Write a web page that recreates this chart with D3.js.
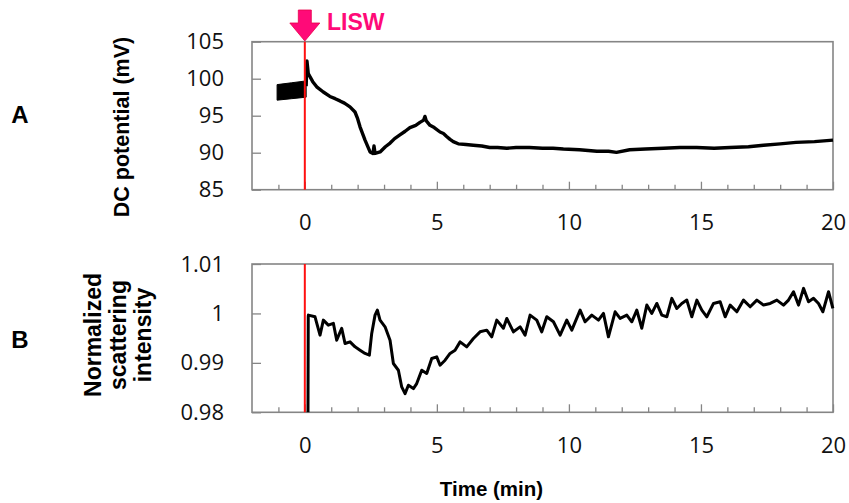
<!DOCTYPE html>
<html>
<head>
<meta charset="utf-8">
<script src="https://cdn.jsdelivr.net/npm/d3@7"></script>
<style>
  body { margin: 0; background: #fff; }
  svg { display: block; }
</style>
</head>
<body>
<script>
// Time axis (min)
const xDomain = [-2, 20];
const xMinorTicks = d3.range(-1, 20);
const xLabelTicks = [0, 5, 10, 15, 20];

// Panel A: DC potential before LISW (noisy band, low/high edges)
const preTime = [-1.05, -0.5, 0.05];
const preLow = [97.1, 97.3, 97.5];
const preHigh = [99.2, 99.45, 99.7];

// Panel A: DC potential after LISW
const dcTime = [0.05, 0.08, 0.13, 0.3, 0.45, 0.7, 0.95, 1.15, 1.33, 1.5, 1.71, 1.9, 2.0, 2.09, 2.28, 2.47,
  2.58, 2.62, 2.66, 2.85, 3.05, 3.23, 3.4, 3.6, 3.8, 3.98, 4.2, 4.36, 4.5, 4.55, 4.6, 4.74, 4.9, 5.12,
  5.25, 5.37, 5.5, 5.62, 5.81, 6.1, 6.38, 6.7, 7.0, 7.3, 7.65, 8.0, 8.5, 9.0, 9.4, 9.79, 10.4, 11.06,
  11.5, 11.8, 12.3, 12.9, 13.58, 14.2, 14.84, 15.5, 16.1, 16.8, 17.37, 18.0, 18.6, 19.3, 20];
const dcValue = [99.0, 102.4, 100.7, 99.6, 98.9, 98.2, 97.6, 97.3, 97.0, 96.7, 96.2, 95.5, 94.6, 93.5, 91.7, 90.1,
  89.9, 90.9, 89.9, 90.1, 90.8, 91.3, 91.9, 92.4, 92.9, 93.4, 93.7, 94.1, 94.4, 94.9, 94.3, 93.7, 93.4, 92.8,
  92.6, 92.2, 91.8, 91.5, 91.2, 91.1, 91.0, 90.9, 90.7, 90.7, 90.6, 90.7, 90.7, 90.6, 90.6, 90.5, 90.4, 90.2,
  90.2, 90.05, 90.4, 90.5, 90.6, 90.7, 90.7, 90.6, 90.7, 90.8, 91.0, 91.2, 91.4, 91.5, 91.7];

// Panel B: normalized scattering intensity
const scTime = [0.12, 0.13, 0.134, 0.386, 0.576, 0.702, 0.891, 1.081, 1.207, 1.397, 1.523, 1.712, 1.902, 2.091,
  2.28, 2.444, 2.533, 2.659, 2.747, 2.848, 3.038, 3.227, 3.353, 3.543, 3.669, 3.795, 3.922, 4.111, 4.237,
  4.427, 4.616, 4.806, 4.995, 5.121, 5.311, 5.5, 5.689, 5.879, 6.131, 6.384, 6.636, 6.889, 7.078, 7.268,
  7.52, 7.647, 7.899, 8.152, 8.341, 8.53, 8.783, 8.972, 9.162, 9.414, 9.667, 9.919, 10.109, 10.424, 10.614,
  10.866, 11.119, 11.308, 11.497, 11.75, 11.939, 12.192, 12.381, 12.571, 12.76, 12.95, 13.139, 13.328,
  13.518, 13.707, 13.897, 14.086, 14.275, 14.465, 14.654, 14.844, 15.033, 15.222, 15.475, 15.727, 15.917,
  16.106, 16.359, 16.611, 16.864, 17.116, 17.369, 17.621, 17.874, 18.126, 18.316, 18.505, 18.694, 18.884,
  19.073, 19.263, 19.452, 19.616, 19.831, 19.995];
const scValue = [0.98, 0.9993, 0.99966, 0.99932, 0.99561, 0.99865, 0.99763, 0.998, 0.99459, 0.997, 0.99392,
  0.99425, 0.99324, 0.99257, 0.9919, 0.99155, 0.99595, 0.99966, 1.00067, 0.99865, 0.99729, 0.99459, 0.98987,
  0.98851, 0.98513, 0.98378, 0.98547, 0.9848, 0.98581, 0.98851, 0.98784, 0.99088, 0.99121, 0.98953, 0.99054,
  0.9919, 0.99257, 0.99425, 0.99324, 0.99493, 0.99628, 0.99662, 0.99527, 0.99865, 0.997, 0.99899, 0.99628,
  0.99729, 0.99561, 0.99966, 0.99865, 0.99628, 0.99932, 0.99831, 0.99561, 0.99865, 0.99662, 1.00067,
  0.99831, 0.99966, 0.99865, 1.0, 0.99527, 1.00033, 0.99899, 0.99966, 0.99831, 1.00067, 0.997, 1.00169,
  1.0, 1.00202, 0.99966, 0.99932, 1.00305, 1.001, 1.00202, 1.0027, 0.99932, 1.0027, 1.00067, 0.99932,
  1.00202, 1.00236, 0.99932, 1.00169, 1.00033, 1.0027, 1.00134, 1.0027, 1.00169, 1.00202, 1.0027, 1.00169,
  1.0027, 1.00439, 1.00169, 1.00507, 1.00236, 1.00305, 1.00202, 1.00033, 1.00439, 1.001];

const yTicksA = [85, 90, 95, 100, 105];
const yTicksB = [0.98, 0.99, 1, 1.01];

const W = 849, H = 503;
const left = 252, right = 833;
const frameColor = "#858585";
const tickFont = "'Open Sans', 'Noto Sans', sans-serif";
const boldFont = "'Liberation Sans', Arial, sans-serif";
const pink = "#ff0a78";

const svg = d3.select("body").append("svg").attr("width", W).attr("height", H);

const x = d3.scaleLinear().domain(xDomain).range([left, right]);

const drawPanel = (top, bottom, yDomain, yTicks, yFormat) => {
  const y = d3.scaleLinear().domain(yDomain).range([bottom, top]);
  const g = svg.append("g");

  // minor time ticks, inside
  g.append("g")
    .attr("transform", `translate(0,${bottom})`)
    .call(d3.axisBottom(x).tickValues(xMinorTicks.filter((d) => d % 5 !== 0)).tickSize(-5).tickFormat(""))
    .call((a) => a.select(".domain").remove())
    .call((a) => a.selectAll("line").attr("stroke", frameColor).attr("stroke-width", 1.3));

  // major time ticks with labels
  g.append("g")
    .attr("transform", `translate(0,${bottom})`)
    .call(d3.axisBottom(x).tickValues(xLabelTicks).tickSizeInner(-8).tickSizeOuter(0).tickPadding(25).tickFormat(d3.format("d")))
    .call((a) => a.select(".domain").remove())
    .call((a) => a.selectAll("line").attr("stroke", frameColor).attr("stroke-width", 1.3))
    .call((a) => a.selectAll("text").attr("font-family", tickFont).attr("font-size", 22).attr("fill", "#111"));

  // y ticks
  g.append("g")
    .attr("transform", `translate(${left},0)`)
    .call(d3.axisLeft(y).tickValues(yTicks).tickSizeInner(-9).tickSizeOuter(0).tickPadding(28).tickFormat(yFormat))
    .call((a) => a.select(".domain").remove())
    .call((a) => a.selectAll("line").attr("stroke", frameColor).attr("stroke-width", 1.3))
    .call((a) => a.selectAll("text").attr("font-family", tickFont).attr("font-size", 22).attr("fill", "#111"));

  // frame
  g.append("rect")
    .attr("x", left).attr("y", top)
    .attr("width", right - left).attr("height", bottom - top)
    .attr("fill", "none").attr("stroke", frameColor).attr("stroke-width", 1.6);

  return { g, y };
};

// Panel A
const A = drawPanel(41.7, 189.7, [85, 105], yTicksA, d3.format("d"));
const pre = preTime.map((t, i) => ({ t, lo: preLow[i], hi: preHigh[i] }));
A.g.append("path")
  .datum(pre)
  .attr("d", d3.area().x((d) => x(d.t)).y0((d) => A.y(d.lo)).y1((d) => A.y(d.hi)))
  .attr("fill", "#000").attr("stroke", "#000").attr("stroke-width", 1);
A.g.append("path")
  .datum(dcTime.map((t, i) => [t, dcValue[i]]))
  .attr("d", d3.line().x((d) => x(d[0])).y((d) => A.y(d[1])))
  .attr("fill", "none").attr("stroke", "#000").attr("stroke-width", 3.4).attr("stroke-linejoin", "round");
A.g.append("line")
  .attr("x1", x(0)).attr("x2", x(0)).attr("y1", 41.7).attr("y2", 189.7)
  .attr("stroke", "#ff1010").attr("stroke-width", 2);

// Panel B
const B = drawPanel(264, 412.3, [0.98, 1.01], yTicksB, (d) => (d === 1 ? "1" : d3.format(".2f")(d)));
B.g.append("line")
  .attr("x1", x(0)).attr("x2", x(0)).attr("y1", 264).attr("y2", 412.3)
  .attr("stroke", "#ff1010").attr("stroke-width", 2);
B.g.append("path")
  .datum(scTime.map((t, i) => [t, scValue[i]]))
  .attr("d", d3.line().x((d) => x(d[0])).y((d) => B.y(d[1])))
  .attr("fill", "none").attr("stroke", "#000").attr("stroke-width", 3).attr("stroke-linejoin", "round");

// LISW arrow
const ax = x(0);
svg.append("path")
  .attr("d", `M${ax - 6.5},10 L${ax + 6.5},10 L${ax + 6.5},23 L${ax + 15},23 L${ax},41 L${ax - 15},23 L${ax - 6.5},23 Z`)
  .attr("fill", pink).attr("stroke", "#e8004a").attr("stroke-width", 0.8);
svg.append("text")
  .attr("x", 327).attr("y", 30)
  .attr("font-family", boldFont).attr("font-weight", "bold").attr("font-size", 23)
  .attr("fill", pink).text("LISW");

// Panel letters
svg.append("text").attr("x", 20).attr("y", 123).attr("text-anchor", "middle")
  .attr("font-family", boldFont).attr("font-weight", "bold").attr("font-size", 24).text("A");
svg.append("text").attr("x", 20).attr("y", 348).attr("text-anchor", "middle")
  .attr("font-family", boldFont).attr("font-weight", "bold").attr("font-size", 24).text("B");

// Y labels
svg.append("text")
  .attr("transform", "translate(128.5,127) rotate(-90)")
  .attr("text-anchor", "middle")
  .attr("font-family", boldFont).attr("font-weight", "bold").attr("font-size", 21.5)
  .text("DC potential (mV)");

const bLabel = ["Normalized", "scattering", "intensity"];
svg.append("g").selectAll("text")
  .data(bLabel)
  .join("text")
  .attr("transform", (d, i) => `translate(${100.5 + i * 25},335) rotate(-90)`)
  .attr("text-anchor", "middle")
  .attr("font-family", boldFont).attr("font-weight", "bold").attr("font-size", 23)
  .text((d) => d);

// X label
svg.append("text")
  .attr("x", 491.5).attr("y", 496)
  .attr("text-anchor", "middle")
  .attr("font-family", boldFont).attr("font-weight", "bold").attr("font-size", 20.5)
  .text("Time (min)");
</script>
</body>
</html>
